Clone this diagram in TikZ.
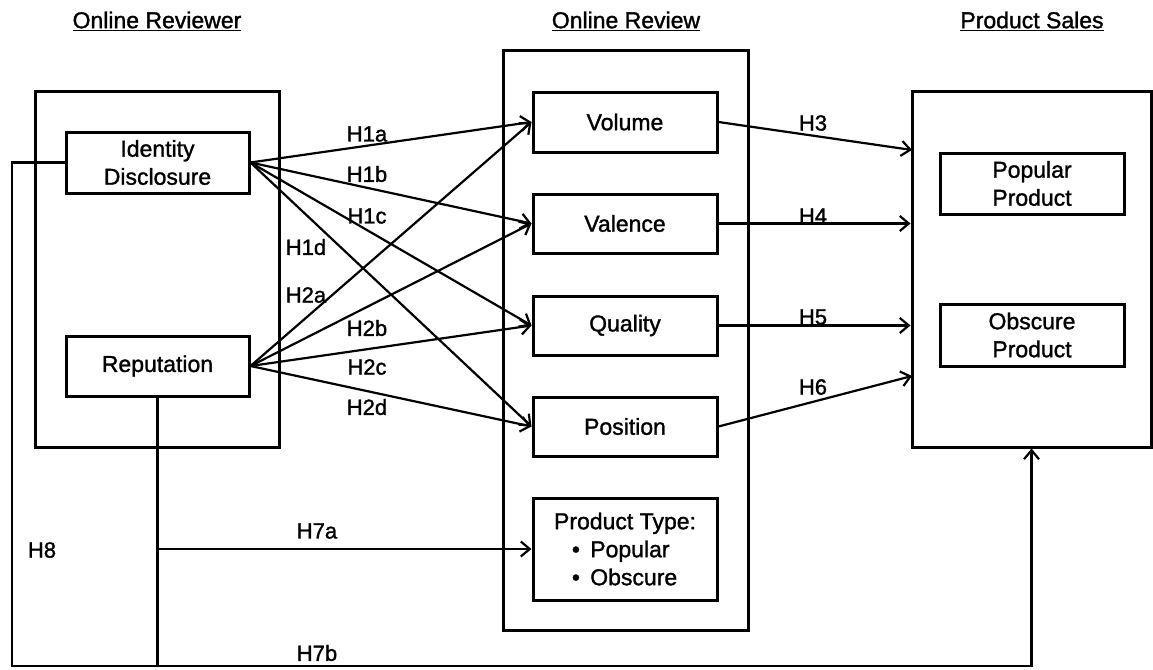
\documentclass[tikz,border=0pt]{standalone}
\usepackage{fontspec}
\setmainfont{Liberation Sans}[FakeBold=1.3]
\usetikzlibrary{arrows.meta}
\begin{document}
\begin{tikzpicture}[x=1pt,y=-1pt,
  txt/.style={font=\fontsize{23pt}{28pt}\selectfont},
  box/.style={txt, draw, line width=3pt, align=center, inner sep=0pt},
  outer/.style={draw, line width=3pt, inner sep=0pt},
  lab/.style={font=\fontsize{22pt}{26pt}\selectfont, inner sep=1pt},
  title/.style={txt, inner sep=0pt},
  conn/.style={line width=2.2pt, line join=miter, -{Straight Barb[length=9pt,width=15pt]}},
  plain/.style={line width=2.2pt, line join=miter}]
\path[use as bounding box, fill=white] (0,0) rectangle (1153,669);

% titles
\node[title] (t1) at (157,21) {\underline{Online Reviewer}};
\node[title] (t2) at (626,21) {\underline{Online Review}};
\node[title] (t3) at (1032,21) {\underline{Product Sales}};

% outer containers
\node[outer, minimum width=244pt, minimum height=356pt] (revOuter) at (157,269) {};
\node[outer, minimum width=245pt, minimum height=579pt] (midOuter) at (625.5,340.5) {};
\node[outer, minimum width=239pt, minimum height=356pt] (salesOuter) at (1031.5,269) {};

% reviewer boxes
\node[box, minimum width=183pt, minimum height=61pt] (identity) at (157.5,162.5) {Identity\\Disclosure};
\node[box, minimum width=183pt, minimum height=60pt] (reputation) at (157.5,366) {Reputation};

% review boxes
\node[box, minimum width=184pt, minimum height=60pt] (volume) at (625,122) {Volume};
\node[box, minimum width=184pt, minimum height=59pt] (valence) at (625,223.5) {Valence};
\node[box, minimum width=184pt, minimum height=59pt] (quality) at (625,325.5) {Quality};
\node[box, minimum width=184pt, minimum height=59pt] (position) at (625,426.5) {Position};
\node[box, minimum width=184pt, minimum height=102pt] (ptype) at (625,549)
  {Product Type:\\\hspace*{3pt}\makebox[4.75em][l]{\textbullet\hspace{0.45em}Popular}\\\hspace*{3pt}\makebox[4.75em][l]{\textbullet\hspace{0.45em}Obscure}};

% sales boxes
\node[box, minimum width=184pt, minimum height=61pt] (popular) at (1032,183.5) {Popular\\Product};
\node[box, minimum width=184pt, minimum height=62pt] (obscure) at (1032,335) {Obscure\\Product};

% H1 arrows
\draw[conn] (identity.east) -- (volume.west);
\draw[conn] (identity.east) -- (valence.west);
\draw[conn] (identity.east) -- (quality.west);
\draw[conn] (identity.east) -- (position.west);
% H2 arrows
\draw[conn] (reputation.east) -- (volume.west);
\draw[conn] (reputation.east) -- (valence.west);
\draw[conn] (reputation.east) -- (quality.west);
\draw[conn] (reputation.east) -- (position.west);

% H3-H6
\coordinate (s3) at (912,150);
\coordinate (s6) at (912,376);
\draw[conn] (volume.east) -- (s3);
\draw[conn] (valence.east) -- (valence.east -| salesOuter.west);
\draw[conn] (quality.east) -- (quality.east -| salesOuter.west);
\draw[conn] (position.east) -- (s6);

% H7 / H8
\coordinate (bot) at (157.5,666);
\coordinate (lft) at (12,666);
\coordinate (j7) at (157.5,549);
\draw[plain] (reputation.south) -- (bot);
\draw[conn] (j7) -- (ptype.west);
\draw[conn] (identity.west) -| (lft) -| (salesOuter.south);

% labels
\node[lab] (l1a) at (367,134) {H1a};
\node[lab] (l1b) at (367,174) {H1b};
\node[lab] (l1c) at (367,216) {H1c};
\node[lab] (l1d) at (306,247) {H1d};
\node[lab] (l2a) at (306,295) {H2a};
\node[lab] (l2b) at (367,328) {H2b};
\node[lab] (l2c) at (367,367) {H2c};
\node[lab] (l2d) at (367,407) {H2d};
\node[lab] (l3) at (813,123) {H3};
\node[lab] (l4) at (813,216) {H4};
\node[lab] (l5) at (813,317) {H5};
\node[lab] (l6) at (813,387) {H6};
\node[lab] (l7a) at (317,531) {H7a};
\node[lab] (l7b) at (317,653) {H7b};
\node[lab] (l8) at (42,550) {H8};
\end{tikzpicture}
\end{document}
